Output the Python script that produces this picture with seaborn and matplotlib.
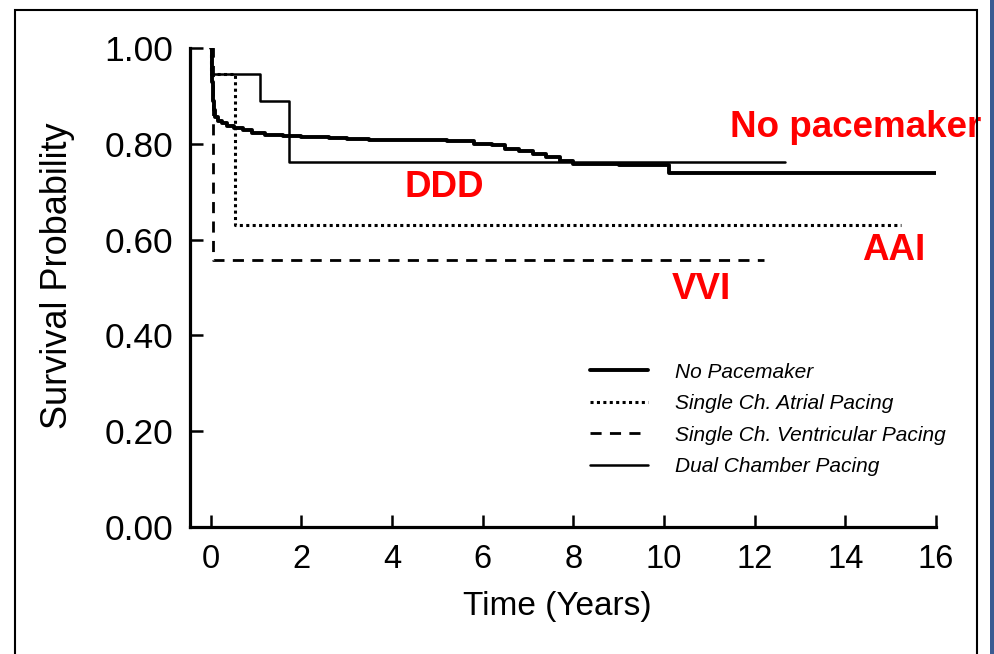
import numpy as np
import pandas as pd
import matplotlib
matplotlib.use("Agg")
import matplotlib.pyplot as plt
from matplotlib.patches import Rectangle
import seaborn as sns

# -------- Data --------
no_pm_time = [0, 0.02, 0.04, 0.06, 0.10, 0.15, 0.25, 0.35, 0.50, 0.70, 0.90, 1.2, 1.6, 2.0,
              2.6, 3.0, 3.5, 4.5, 5.2, 5.8, 6.2, 6.5, 6.8, 7.1, 7.4, 7.7, 8.0, 9.0, 10.1, 16.0]
no_pm_surv = [1.00, 0.93, 0.89, 0.87, 0.855, 0.848, 0.843, 0.838, 0.834, 0.828, 0.822, 0.819, 0.817, 0.815,
              0.813, 0.810, 0.808, 0.807, 0.805, 0.800, 0.797, 0.790, 0.785, 0.778, 0.772, 0.765, 0.758, 0.756, 0.738, 0.738]

aai_time = [0, 0.01, 0.53, 15.22]
aai_surv = [1.00, 0.945, 0.630, 0.630]

vvi_time = [0, 0.05, 12.2]
vvi_surv = [1.00, 0.557, 0.557]

ddd_time = [0, 0.01, 1.08, 1.73, 12.67]
ddd_surv = [1.00, 0.945, 0.889, 0.761, 0.761]

legend_labels = ["No Pacemaker", "Single Ch. Atrial Pacing",
                 "Single Ch. Ventricular Pacing", "Dual Chamber Pacing"]

# red annotations: (text, x, y)
annotations = [("No pacemaker", 11.46, 0.835), ("DDD", 4.28, 0.708),
               ("AAI", 14.37, 0.578), ("VVI", 10.18, 0.495)]

x_ticks = [0, 2, 4, 6, 8, 10, 12, 14, 16]
y_ticks = [0.0, 0.2, 0.4, 0.6, 0.8, 1.0]

# -------- Style --------
sns.set_style("ticks")
plt.rcParams["font.family"] = ["Liberation Sans", "DejaVu Sans"]
plt.rcParams["text.color"] = "black"
plt.rcParams["axes.labelcolor"] = "black"

fig = plt.figure(figsize=(9.94, 6.54), dpi=100)
ax = fig.add_axes([190 / 994, 1 - 527 / 654, (936 - 190) / 994, (527 - 48) / 654])

curves = [
    (no_pm_time, no_pm_surv, dict(linewidth=2.8, linestyle="-")),
    (aai_time, aai_surv, dict(linewidth=2.2, linestyle=(0, (1, 1.1)))),
    (vvi_time, vvi_surv, dict(linewidth=2.0, linestyle=(0, (4, 3)))),
    (ddd_time, ddd_surv, dict(linewidth=1.8, linestyle="-")),
]
for (t, s, kw), lab in zip(curves, legend_labels):
    df = pd.DataFrame({"time": t, "surv": s})
    sns.lineplot(data=df, x="time", y="surv", ax=ax, color="black", drawstyle="steps-post",
                 estimator=None, sort=False, label=lab, **kw)

ax.set_xlim(-0.46, 16.0)
ax.set_ylim(0, 1.0)
ax.set_xticks(x_ticks)
ax.set_xticklabels([str(v) for v in x_ticks])
ax.set_yticks(y_ticks)
ax.set_yticklabels([f"{v:.2f}" for v in y_ticks])
ax.tick_params(axis="x", direction="in", length=9, width=1.8, labelsize=23.5, pad=12, colors="black")
ax.tick_params(axis="y", direction="in", length=9, width=1.8, labelsize=25.5, pad=12, colors="black")
sns.despine(ax=ax)
for sp in ["left", "bottom"]:
    ax.spines[sp].set_linewidth(2.3)
    ax.spines[sp].set_color("black")

ax.set_xlabel("Time (Years)", fontsize=24, va="center")
ax.set_ylabel("Survival Probability", fontsize=26, va="center")
ax.xaxis.set_label_coords(0.492, -0.167)
ax.yaxis.set_label_coords(-0.178, 0.524)

leg = ax.legend(loc="center left", bbox_to_anchor=(590 / 994, 1 - 419.5 / 654),
                bbox_transform=fig.transFigure, frameon=False, borderpad=0, borderaxespad=0,
                handlelength=2.8, handletextpad=1.3, labelspacing=0.6,
                prop={"style": "italic", "size": 15})

for txt, x, y in annotations:
    ax.text(x, y, txt, color="#ff0000", fontsize=26.5, fontweight="bold",
            ha="left", va="center", clip_on=False)

# outer frame of the scanned figure and the blue edge strip
fig.add_artist(Rectangle((15 / 994, -0.05), (977 - 15) / 994, 1.05 - 10 / 654,
                         transform=fig.transFigure, fill=False, edgecolor="black", linewidth=1.5))
fig.add_artist(Rectangle((990 / 994, 0), 4 / 994, 1, transform=fig.transFigure,
                         facecolor="#3b5b92", edgecolor="none"))

fig.savefig("out.png", dpi=100)
